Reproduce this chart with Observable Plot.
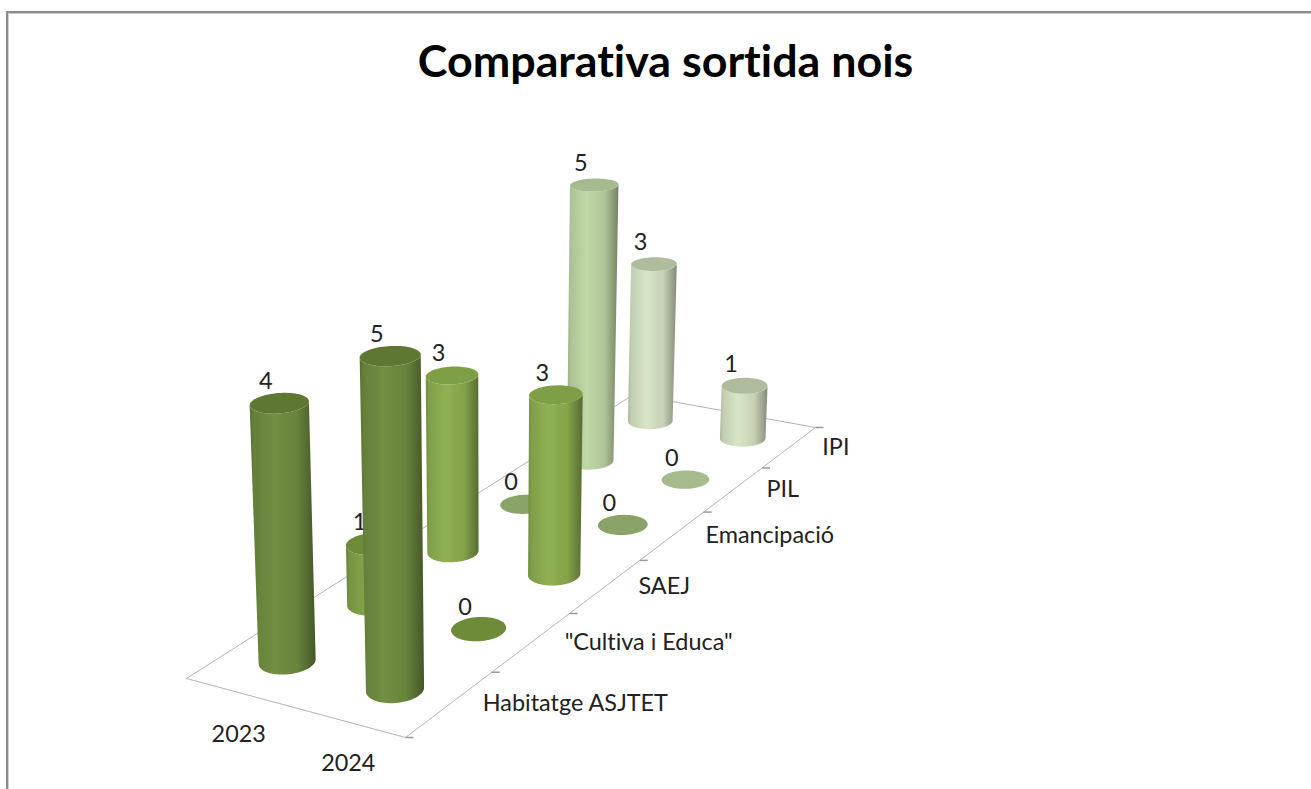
<!DOCTYPE html>
<html>
<head>
<meta charset="utf-8">
<script src="https://cdn.jsdelivr.net/npm/d3@7"></script>
<script src="https://cdn.jsdelivr.net/npm/@observablehq/plot@0.6"></script>
<style>
  html, body { margin: 0; padding: 0; background: #fff; overflow: hidden; }
  #frame { position: absolute; left: 6px; top: 11px; right: 0; bottom: 0;
           border-left: 2px solid #8a8a8a; border-top: 2px solid #8a8a8a;
           box-shadow: inset 1px 1px 0 #cfcfcf; pointer-events: none; }
  #chart { position: absolute; left: 0; top: 0; }
  svg { display: block; }
  svg text { font-variant-ligatures: none; }
</style>
</head>
<body>
<div id="chart"></div>
<div id="frame"></div>
<script>
// ---- data ----
const chartTitle = "Comparativa sortida nois";
const categories = ["Habitatge ASJTET", "\"Cultiva i Educa\"", "SAEJ", "Emancipació", "PIL", "IPI"];
const seriesNames = ["2023", "2024"];
const values2023 = [4, 1, 3, 0, 5, 3];
const values2024 = [5, 0, 3, 0, 0, 1];

// ---- style ----
const bodyColors = ["#728f42", "#84a54a", "#90b151", "#a3bb80", "#c0d7a6", "#d8e5c6"];
const capColors  = ["#5f7831", "#6d8b39", "#7f9f46", "#8aa369", "#a5ba8d", "#aebb9c"];
const FONT = "Lato, 'Open Sans', sans-serif";

// ---- camera: floor corners and vertical vanishing point ----
const corners = [[186, 678], [405, 737], [815, 427], [633, 394]];
const VX = 490, VY = 7300, LIFT = 0.0096;
const RU = 0.215, RV = 0.19;

const [[x0, y0], [x1, y1], [x2, y2], [x3, y3]] = corners;
const dx1 = x1 - x2, dx2 = x3 - x2, sx = x0 - x1 + x2 - x3;
const dy1 = y1 - y2, dy2 = y3 - y2, sy = y0 - y1 + y2 - y3;
const den = dx1 * dy2 - dx2 * dy1;
const g = (sx * dy2 - dx2 * sy) / den, h = (dx1 * sy - sx * dy1) / den;
const a = x1 - x0 + g * x1, b = x3 - x0 + h * x3;
const d = y1 - y0 + g * y1, e = y3 - y0 + h * y3;
const W = (u, v) => g * u / 2 + h * v / 6 + 1;
const K = LIFT * W(1.5, 0.5);
function project(u, v, z = 0) {
  const s = u / 2, t = v / 6, w = W(u, v);
  const q = K * z / w;
  return [VX + ((a * s + b * t + x0) / w - VX) / (1 - q),
          VY + ((d * s + e * t + y0) / w - VY) / (1 - q)];
}
const TS = d3.range(0, 73).map(i => (i / 72) * 2 * Math.PI);
const ring = (u, v, z, t) => project(u + RU * Math.cos(t), v + RV * Math.sin(t), z);

function frontArc(u, v) {
  const n = 72, pts = d3.range(n).map(i => ring(u, v, 0, TS[i]));
  const iMin = d3.least(d3.range(n), i => pts[i][0]);
  const iMax = d3.least(d3.range(n), i => -pts[i][0]);
  const walk = (from, to) => { const o = []; for (let i = from; ; i = (i + 1) % n) { o.push(TS[i]); if (i === to) break; } return o; };
  const A = walk(iMin, iMax), B = walk(iMax, iMin).reverse();
  const meanY = arc => d3.mean(arc, t => ring(u, v, 0, t)[1]);
  return meanY(A) > meanY(B) ? A : B;
}

const stops = c => [[0, d3.color(c).darker(0.65)], [0.07, d3.color(c).darker(0.3)], [0.38, d3.color(c)],
  [0.72, d3.color(c).darker(0.25)], [0.93, d3.color(c).darker(1.05)], [1, d3.color(c).darker(1.45)]];

function defsMark() {
  const defs = d3.create("svg:defs");
  bodyColors.forEach((c, i) => {
    const gr = defs.append("linearGradient").attr("id", "cyl" + i).attr("x1", 0).attr("x2", 1).attr("y1", 0).attr("y2", 0);
    stops(c).forEach(([o, col]) => gr.append("stop").attr("offset", o).attr("stop-color", col.formatHex()));
  });
  return defs.node();
}

// ---- marks ----
const U = [0.515, 1.515], series = [values2023, values2024];
const cylinders = [];
for (let ci = categories.length - 1; ci >= 0; ci--) {
  series.forEach((vals, si) => {
    const val = vals[ci], u = U[si], v = ci + 0.5;
    if (val > 0) {
      const side = frontArc(u, v).map(t => {
        const p = ring(u, v, 0, t), q = ring(u, v, val, t);
        return { x1: p[0], y1: p[1], x2: q[0], y2: q[1] };
      });
      cylinders.push(Plot.area(side, { x1: "x1", y1: "y1", x2: "x2", y2: "y2", fill: `url(#cyl${ci})` }));
    }
    const half = d3.range(0, 37).map(i => (i / 36) * Math.PI);
    const cap = half.map(t => {
      const p = ring(u, v, val, t), q = ring(u, v, val, -t);
      return { x1: p[0], y1: p[1], x2: q[0], y2: q[1] };
    });
    cylinders.push(Plot.area(cap, { x1: "x1", y1: "y1", x2: "x2", y2: "y2", fill: capColors[ci] }));
    const topC = project(u, v, val);
    cylinders.push(Plot.text([{ val, x: topC[0], y: topC[1] }], {
      x: "x", y: "y", text: r => String(r.val), dx: -14, dy: val > 0 ? -22 : -22,
      fontSize: 23.5, fontFamily: FONT, fill: "#222"
    }));
  });
}

const floorLoop = [[0, 0], [2, 0], [2, 6], [0, 6], [0, 0]].map(([u, v]) => project(u, v));
const tickPts = d3.range(0, 7).map(v => project(2, v));
const catLabels = categories.map((name, i) => ({ name, p: project(2, i + 0.5) }));
const serLabels = seriesNames.map((name, i) => ({ name, p: project(U[i], 0) }));

try {
const plot = Plot.plot({
  width: 1311, height: 789, margin: 0,
  x: { domain: [0, 1311], range: [0, 1311], axis: null },
  y: { domain: [0, 789], range: [0, 789], axis: null },
  style: { background: "transparent" },
  marks: [
    defsMark,
    Plot.line(floorLoop, { x: p => p[0], y: p => p[1], stroke: "#b4b4b4", strokeWidth: 1 }),
    Plot.link(tickPts, { x1: p => p[0], y1: p => p[1], x2: p => p[0] + 8, y2: p => p[1], stroke: "#9a9a9a", strokeWidth: 1.5 }),
    ...cylinders,
    Plot.text(catLabels, { x: r => r.p[0], y: r => r.p[1], text: "name", dx: 33, dy: 0, textAnchor: "start",
      fontSize: 23.4, fontFamily: FONT, fill: "#222" }),
    Plot.text(serLabels, { x: r => r.p[0], y: r => r.p[1], text: "name", dx: -2, dy: 41,
      fontSize: 23.4, fontFamily: FONT, fill: "#222" }),
    Plot.text([{ t: chartTitle, x: 665, y: 62 }], { x: "x", y: "y", text: "t",
      fontSize: 44.8, fontWeight: 700, fontFamily: FONT, fill: "#000" })
  ]
});
document.getElementById("chart").appendChild(plot);
} catch (err) {
  document.getElementById("chart").textContent = String(err);
  console.error(err);
}
</script>
</body>
</html>
